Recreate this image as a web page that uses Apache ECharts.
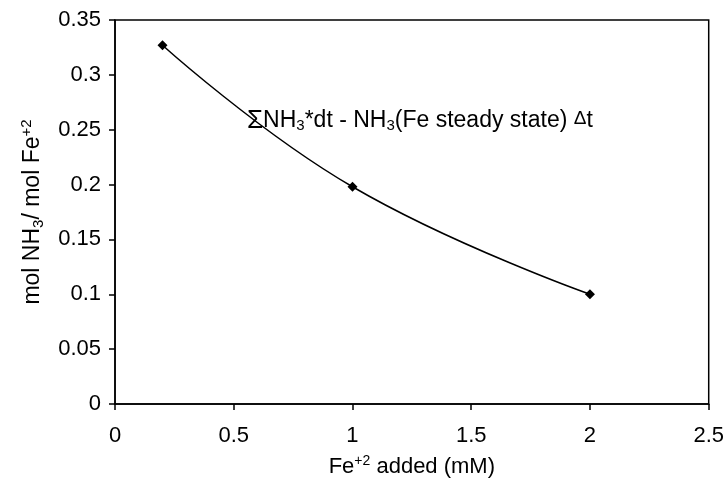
<!DOCTYPE html>
<html>
<head>
<meta charset="utf-8">
<script src="https://cdn.jsdelivr.net/npm/echarts@6/dist/echarts.min.js"></script>
<style>
  html, body { margin: 0; padding: 0; background: #fff; }
  #main { width: 727px; height: 483px; }
</style>
</head>
<body>
<div id="main"></div>
<script>
// data
var feAdded = [0.2, 1, 2];
var nh3PerFe = [0.327, 0.198, 0.1];
var xTicks = [0, 0.5, 1, 1.5, 2, 2.5];
var yTicks = [0, 0.05, 0.1, 0.15, 0.2, 0.25, 0.3, 0.35];

var font = 'Liberation Sans, Arial, sans-serif';
var chart = echarts.init(document.getElementById('main'));

chart.setOption({
  animation: false,
  grid: {
    left: 115, right: 16, top: 20, bottom: 78,
    show: true, borderColor: '#000', borderWidth: 1.5, backgroundColor: '#fff'
  },
  xAxis: {
    type: 'value',
    min: xTicks[0], max: xTicks[xTicks.length - 1], interval: 0.5,
    axisLine: { show: true, lineStyle: { color: '#000', width: 1.5 } },
    axisTick: { show: true, inside: false, length: 6, lineStyle: { color: '#000', width: 1.5 } },
    splitLine: { show: false },
    axisLabel: { color: '#000', fontSize: 22, fontFamily: font, margin: 21,
      formatter: function (v) { return String(v); } },
    name: '{n|Fe}{sup|+2}{n| added (mM)}',
    nameLocation: 'middle',
    nameGap: 50,
    nameTextStyle: {
      rich: {
        n: { fontSize: 22, fontFamily: font, color: '#000' },
        sup: { fontSize: 14, fontFamily: font, color: '#000', padding: [0, 0, 12, 0] }
      }
    }
  },
  yAxis: {
    type: 'value',
    min: yTicks[0], max: yTicks[yTicks.length - 1], interval: 0.05,
    axisLine: { show: true, lineStyle: { color: '#000', width: 1.5 } },
    axisTick: { show: true, inside: false, length: 6, lineStyle: { color: '#000', width: 1.5 } },
    splitLine: { show: false },
    axisLabel: { color: '#000', fontSize: 22, fontFamily: font, margin: 14,
      formatter: function (v) { return String(+v.toFixed(2)); } },
    name: '{n|mol NH}{sub|3}{n|/ mol Fe}{sup|+2}',
    nameLocation: 'middle',
    nameGap: 68,
    nameTextStyle: {
      rich: {
        n: { fontSize: 23, fontFamily: font, color: '#000' },
        sub: { fontSize: 15, fontFamily: font, color: '#000', padding: [11, 0, 0, 0] },
        sup: { fontSize: 15, fontFamily: font, color: '#000', padding: [0, 0, 13, 0] }
      }
    }
  },
  series: [{
    type: 'line',
    data: feAdded.map(function (x, i) { return [x, nh3PerFe[i]]; }),
    smooth: 0.45,
    symbol: 'diamond',
    symbolSize: 10,
    itemStyle: { color: '#000' },
    lineStyle: { color: '#000', width: 1.5 }
  }],
  graphic: [{
    type: 'text',
    left: 247,
    top: 108,
    style: {
      text: '{s|Σ}{n|NH}{sub|3}{n|*dt - NH}{sub|3}{n|(Fe steady state) }{d|Δ}{n|t}',
      rich: {
        s: { fontSize: 26, fontFamily: font, fill: '#000' },
        n: { fontSize: 23, fontFamily: font, fill: '#000' },
        sub: { fontSize: 15, fontFamily: font, fill: '#000', padding: [10, 0, 0, 0] },
        d: { fontSize: 19, fontFamily: font, fill: '#000', padding: [0, 0, 5, 0] }
      }
    }
  }]
});
</script>
</body>
</html>
